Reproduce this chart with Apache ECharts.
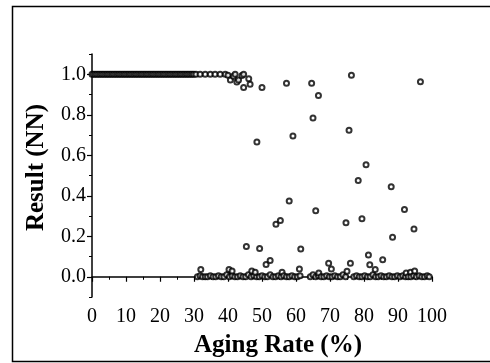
<!DOCTYPE html>
<html>
<head>
<meta charset="utf-8">
<script src="https://cdn.jsdelivr.net/npm/echarts@6/dist/echarts.min.js"></script>
<style>
  html, body { margin: 0; padding: 0; background: #fff; }
  #chart { width: 490px; height: 363px; }
</style>
</head>
<body>
<div id="chart"></div>
<script>
// ticks
const xTicks = [0, 10, 20, 30, 40, 50, 60, 70, 80, 90, 100]
const yMajor = [0, 0.2, 0.4, 0.6, 0.8, 1.0]
const yMinor = [-0.1, 0.1, 0.3, 0.5, 0.7, 0.9, 1.1]

// points sitting on 1.0 (left part, dense)
const topRow = [
  [0, 1], [0.5, 1], [1, 1], [1.5, 1], [2, 1], [2.5, 1], [3, 1], [3.5, 1], [4, 1], [4.5, 1],
  [5, 1], [5.5, 1], [6, 1], [6.5, 1], [7, 1], [7.5, 1], [8, 1], [8.5, 1], [9, 1], [9.5, 1],
  [10, 1], [10.5, 1], [11, 1], [11.5, 1], [12, 1], [12.5, 1], [13, 1], [13.5, 1], [14, 1], [14.5, 1],
  [15, 1], [15.5, 1], [16, 1], [16.5, 1], [17, 1], [17.5, 1], [18, 1], [18.5, 1], [19, 1], [19.5, 1],
  [20, 1], [20.5, 1], [21, 1], [21.5, 1], [22, 1], [22.5, 1], [23, 1], [23.5, 1], [24, 1], [24.5, 1],
  [25, 1], [25.5, 1], [26, 1], [26.5, 1], [27, 1], [27.5, 1], [28, 1], [28.5, 1], [29, 1], [29.5, 1],
  [30, 1], [30.6, 1], [31.8, 1], [33.3, 1], [34.8, 1], [36.2, 1], [37.7, 1], [39.2, 1], [40.0, 0.995],
  [40.7, 0.971], [41.6, 0.99], [42.1, 1.0], [42.6, 0.962], [43.1, 0.971], [44.1, 0.994], [44.6, 1.0],
  [44.6, 0.935], [46.1, 0.978], [46.5, 0.951]
]

// points on the 0.0 line (right part)
const bottomRow = [
  [31.0, 0], [31.8, 0.005], [32.0, 0.036], [32.5, 0], [33.3, 0], [34.0, 0], [34.8, 0.005], [35.6, 0],
  [36.4, 0], [37.2, 0.005], [38.0, 0], [38.8, 0], [39.6, 0.01], [40.3, 0.036], [40.4, 0], [41.2, 0.005],
  [42.0, 0], [42.8, 0], [43.6, 0.005], [44.4, 0], [45.2, 0], [46.0, 0.01], [46.8, 0], [47.6, 0.005],
  [48.4, 0], [49.2, 0], [50.0, 0.005], [50.8, 0], [51.6, 0], [52.4, 0.01], [53.2, 0], [54.0, 0],
  [54.8, 0.005], [55.6, 0], [55.9, 0.022], [56.4, 0.005], [57.2, 0], [58.0, 0], [58.8, 0.005], [59.6, 0],
  [60.4, 0], [61.2, 0.005], [64.2, 0], [65.0, 0.01], [65.8, 0], [66.6, 0.005], [66.7, 0.019], [67.4, 0],
  [68.2, 0], [69.0, 0.005], [69.8, 0], [70.6, 0], [71.4, 0.005], [72.2, 0], [73.0, 0], [73.8, 0.01],
  [74.6, 0], [77.0, 0], [77.8, 0.005], [78.6, 0], [79.4, 0], [80.2, 0.005], [81.0, 0], [81.8, 0],
  [82.6, 0.01], [83.4, 0], [84.2, 0], [85.0, 0.005], [85.8, 0], [86.6, 0], [87.4, 0.005], [88.2, 0],
  [89.0, 0], [89.8, 0.005], [90.6, 0], [91.4, 0.005], [92.2, 0], [92.4, 0.019], [93.0, 0], [93.7, 0.022],
  [93.8, 0], [94.6, 0.005], [94.9, 0.029], [95.4, 0], [96.2, 0.005], [97.0, 0], [97.8, 0], [98.6, 0.005],
  [99.2, 0]
]

// scattered points in between
const scattered = [
  [50.0, 0.935], [57.2, 0.955], [64.6, 0.955], [66.6, 0.895], [76.3, 0.995], [96.6, 0.963],
  [65.0, 0.784], [75.6, 0.724], [59.1, 0.695], [48.5, 0.665], [80.6, 0.553], [78.3, 0.475],
  [88.0, 0.444], [58.0, 0.374], [91.9, 0.332], [65.8, 0.326], [79.4, 0.286], [74.7, 0.267],
  [54.1, 0.259], [55.4, 0.278], [94.7, 0.236], [88.4, 0.195], [45.4, 0.149], [49.3, 0.139],
  [61.4, 0.137], [81.3, 0.107], [51.2, 0.060], [52.4, 0.080], [85.5, 0.084], [69.6, 0.067],
  [70.4, 0.038], [76.0, 0.067], [81.7, 0.059], [83.3, 0.036], [61.0, 0.038], [75.0, 0.027],
  [47.0, 0.029], [48.0, 0.022], [41.2, 0.029]
]

const font = '"Liberation Serif", "Times New Roman", serif'
const pointStyle = {
  type: 'scatter',
  symbol: 'emptyCircle',
  symbolSize: 5,
  itemStyle: { color: '#000', borderColor: '#000', borderWidth: 1.1 },
  silent: true
}

const chart = echarts.init(document.getElementById('chart'))
chart.setOption({
  animation: false,
  backgroundColor: '#fff',
  graphic: [{
    type: 'rect',
    shape: { x: 12.5, y: 6.5, width: 490, height: 355 },
    style: { fill: 'none', stroke: '#000', lineWidth: 1.5 },
    silent: true
  }],
  grid: { left: 92, right: 58, top: 54, bottom: 60 },
  xAxis: {
    type: 'value',
    min: 0,
    max: 100,
    interval: 10,
    name: 'Aging Rate (%)',
    nameLocation: 'middle',
    nameGap: 36,
    nameTextStyle: { fontFamily: font, fontWeight: 'bold', fontSize: 25, color: '#000', padding: [0, 0, 0, 32] },
    axisLine: { lineStyle: { color: '#000', width: 1.5 } },
    axisTick: { length: 5, lineStyle: { color: '#000', width: 1.2 } },
    minorTick: { show: true, splitNumber: 2, length: 3, lineStyle: { color: '#000' } },
    axisLabel: { fontFamily: font, fontSize: 20, color: '#000', margin: 10 },
    splitLine: { show: false }
  },
  yAxis: [{
    type: 'value',
    min: -0.1,
    max: 1.1,
    name: 'Result (NN)',
    nameLocation: 'middle',
    nameGap: 43,
    nameTextStyle: { fontFamily: font, fontWeight: 'bold', fontSize: 25, color: '#000', padding: [0, 0, 0, 16] },
    axisLine: { lineStyle: { color: '#000', width: 1.5 } },
    axisTick: { customValues: yMajor, length: 5, lineStyle: { color: '#000', width: 1.2 } },
    axisLabel: {
      customValues: yMajor,
      fontFamily: font, fontSize: 20, color: '#000', margin: 6,
      formatter: v => v.toFixed(1)
    },
    splitLine: { show: false }
  }, {
    type: 'value',
    position: 'left',
    min: -0.1,
    max: 1.1,
    axisLine: { show: false },
    axisTick: { customValues: yMinor, length: 3, lineStyle: { color: '#000' } },
    axisLabel: { show: false },
    splitLine: { show: false }
  }],
  series: [
    Object.assign({ name: 'top', data: topRow }, pointStyle),
    Object.assign({ name: 'bottom', data: bottomRow }, pointStyle),
    Object.assign({ name: 'scattered', data: scattered }, pointStyle)
  ]
})
</script>
</body>
</html>
